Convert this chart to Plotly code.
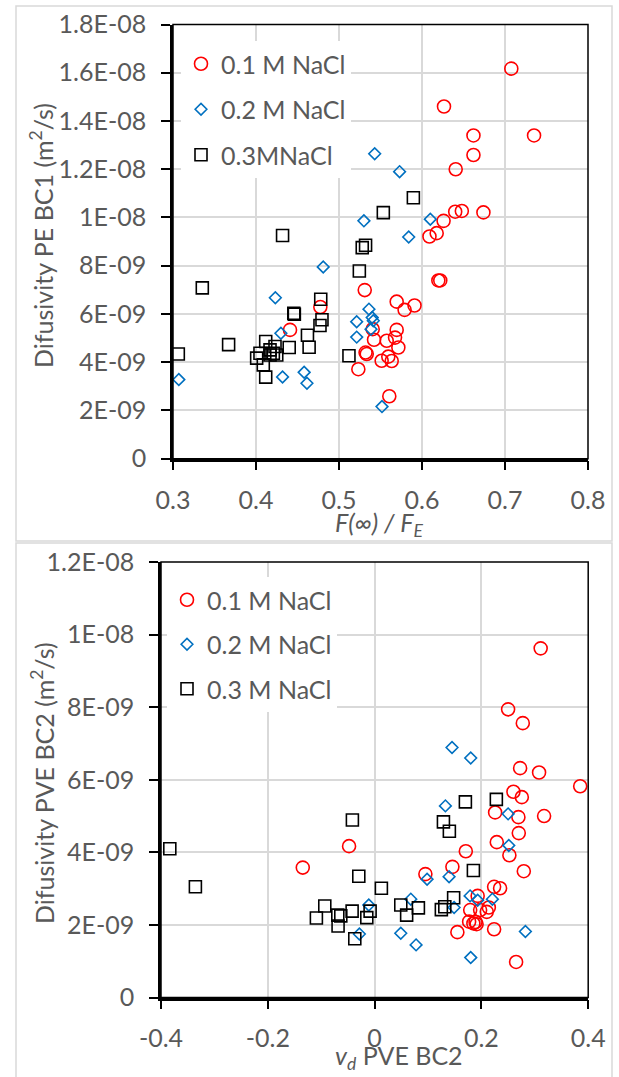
import plotly.graph_objects as go

# ---------------- data: top panel (F(inf)/F_E vs Difusivity PE BC1) ----------------
top_x_01 = [0.5695, 0.579, 0.591, 0.5695, 0.5675, 0.5575, 0.5715, 0.5594, 0.5635, 0.5514,
            0.5606, 0.5233, 0.532, 0.5334, 0.5422, 0.5406, 0.531, 0.4775, 0.441, 0.6197,
            0.622, 0.609, 0.6177, 0.626, 0.640, 0.648, 0.674, 0.6406, 0.662, 0.662,
            0.735, 0.6265, 0.7076]
top_y_01 = [6.51, 6.17, 6.35, 5.34, 5.02, 4.89, 4.61, 4.23, 4.05, 4.06,
            2.59, 3.71, 4.40, 4.34, 4.93, 5.37, 6.99, 6.29, 5.34, 7.39,
            7.39, 9.21, 9.35, 9.86, 10.24, 10.27, 10.21, 12.0, 12.59, 13.4,
            13.4, 14.6, 16.17]

top_x_02 = [0.307, 0.4233, 0.430, 0.432, 0.458, 0.4614, 0.481, 0.5213, 0.5213, 0.530,
            0.5361, 0.540, 0.5413, 0.5386, 0.5518, 0.543, 0.573, 0.584, 0.610]
top_y_02 = [3.28, 6.67, 5.20, 3.39, 3.58, 3.13, 7.95, 5.68, 5.04, 9.86,
            6.20, 5.85, 5.72, 5.37, 2.16, 12.64, 11.9, 9.19, 9.93]

top_x_03 = [0.3064, 0.3353, 0.367, 0.4008, 0.4048, 0.4088, 0.4117, 0.4117, 0.4169, 0.4229,
            0.4209, 0.425, 0.4169, 0.432, 0.440, 0.4455, 0.4462, 0.462, 0.464, 0.478,
            0.4795, 0.4771, 0.512, 0.5245, 0.528, 0.532, 0.5534, 0.5896]
top_y_03 = [4.34, 7.08, 4.73, 4.17, 4.37, 3.89, 3.38, 4.86, 4.51, 4.65,
            4.37, 4.30, 4.30, 9.25, 4.61, 6.03, 5.99, 5.12, 4.62, 6.61,
            5.76, 5.52, 4.27, 7.78, 8.75, 8.85, 10.2, 10.82]

# ---------------- data: bottom panel (v_d PVE BC2 vs Difusivity PVE BC2) ----------------
bot_x_01 = [-0.1345, -0.0478, 0.311, 0.25, 0.2775, 0.2725, 0.308, 0.385, 0.26, 0.2757,
            0.2257, 0.2693, 0.3174, 0.270, 0.2288, 0.1708, 0.2524, 0.1457, 0.2794, 0.0951,
            0.2238, 0.235, 0.193, 0.2139, 0.210, 0.1976, 0.179, 0.177, 0.185, 0.191,
            0.189, 0.2238, 0.155, 0.265]
bot_y_01 = [3.58, 4.17, 9.62, 7.94, 7.56, 6.32, 6.20, 5.82, 5.67, 5.52,
            5.10, 4.97, 5.00, 4.53, 4.28, 4.03, 3.92, 3.60, 3.48, 3.40,
            3.05, 3.01, 2.80, 2.48, 2.36, 2.41, 2.41, 2.09, 2.04, 2.02,
            2.08, 1.88, 1.80, 0.98]

bot_x_02 = [-0.0109, -0.0285, 0.145, 0.180, 0.1326, 0.25, 0.2513, 0.1395, 0.0983, 0.0678,
            0.1788, 0.193, 0.2206, 0.1489, 0.2824, 0.049, 0.0777, 0.180]
bot_y_02 = [2.55, 1.75, 6.89, 6.60, 5.28, 5.06, 4.19, 3.33, 3.26, 2.71,
            2.80, 2.68, 2.71, 2.48, 1.82, 1.77, 1.45, 1.10]

bot_x_03 = [-0.3835, -0.3356, -0.0416, -0.0296, 0.0127, -0.0933, -0.109, -0.0689, -0.0633, -0.0684,
            -0.0421, -0.0146, -0.0084, -0.0371, 0.170, 0.228, 0.1289, 0.140, 0.185, 0.049,
            0.082, 0.060, 0.125, 0.1315, 0.148]
bot_y_03 = [4.10, 3.05, 4.89, 3.34, 3.01, 2.52, 2.19, 2.27, 2.25, 1.97,
            2.38, 2.20, 2.38, 1.62, 5.39, 5.46, 4.84, 4.58, 3.50, 2.55,
            2.47, 2.27, 2.42, 2.50, 2.75]

top_names = ["0.1 M NaCl", "0.2 M NaCl", "0.3MNaCl"]
bot_names = ["0.1 M NaCl", "0.2 M NaCl", "0.3 M NaCl"]

top_yticks = [0, 2e-9, 4e-9, 6e-9, 8e-9, 1e-8, 1.2e-8, 1.4e-8, 1.6e-8, 1.8e-8]
top_yticktext = ["0", "2E-09", "4E-09", "6E-09", "8E-09", "1E-08", "1.2E-08", "1.4E-08", "1.6E-08", "1.8E-08"]
top_xticks = [0.3, 0.4, 0.5, 0.6, 0.7, 0.8]
top_xticktext = ["0.3", "0.4", "0.5", "0.6", "0.7", "0.8"]

bot_yticks = [0, 2e-9, 4e-9, 6e-9, 8e-9, 1e-8, 1.2e-8]
bot_yticktext = ["0", "2E-09", "4E-09", "6E-09", "8E-09", "1E-08", "1.2E-08"]
bot_xticks = [-0.4, -0.2, 0, 0.2, 0.4]
bot_xticktext = ["-0.4", "-0.2", "0", "0.2", "0.4"]

# ---------------- figure ----------------
W, H = 619, 1077
FONT = "Lato"
TXT = "#595959"
FS = 25


def px_x(p):
    return p / W


def px_y(p):
    return 1 - p / H


fig = go.Figure()

styles = [
    dict(symbol="circle-open", size=13, color="#FF0000"),
    dict(symbol="diamond-open", size=9, color="#0070C0"),
    dict(symbol="square-open", size=12, color="#000000"),
]

top_sets = [(top_x_01, top_y_01), (top_x_02, top_y_02), (top_x_03, top_y_03)]
bot_sets = [(bot_x_01, bot_y_01), (bot_x_02, bot_y_02), (bot_x_03, bot_y_03)]

for i, ((xs, ys), st) in enumerate(zip(top_sets, styles)):
    fig.add_trace(go.Scatter(
        x=xs, y=[v * 1e-9 for v in ys], mode="markers", name=top_names[i],
        xaxis="x", yaxis="y", legend="legend", legendgroup=f"t{i}",
        marker=dict(symbol=st["symbol"], size=st["size"], color=st["color"],
                    line=dict(width=1.6, color=st["color"])),
    ))

for i, ((xs, ys), st) in enumerate(zip(bot_sets, styles)):
    fig.add_trace(go.Scatter(
        x=xs, y=[v * 1e-9 for v in ys], mode="markers", name=bot_names[i],
        xaxis="x2", yaxis="y2", legend="legend2", legendgroup=f"b{i}",
        marker=dict(symbol=st["symbol"], size=st["size"], color=st["color"],
                    line=dict(width=1.6, color=st["color"])),
    ))

axis_common = dict(
    showgrid=True, gridcolor="#d9d9d9", gridwidth=1.5,
    zeroline=False, showline=True, linecolor="black", linewidth=2.5,
    ticks="outside", ticklen=9, tickwidth=2, tickcolor="black",
    tickfont=dict(family=FONT, size=FS, color=TXT),
    automargin=False, fixedrange=True,
)

# pixel geometry of plot areas
T_L, T_R, T_T, T_B = 173, 588, 24.5, 458.7
B_L, B_R, B_T, B_B = 161, 588.2, 562, 997.5

fig.update_layout(
    width=W, height=H,
    margin=dict(l=0, r=0, t=0, b=0),
    paper_bgcolor="white", plot_bgcolor="white",
    font=dict(family=FONT, color=TXT, size=FS),
    xaxis=dict(axis_common, domain=[px_x(T_L), px_x(T_R)], range=[0.3, 0.8],
               tickvals=top_xticks, ticktext=top_xticktext, anchor="y",
               ticklabelstandoff=9),
    yaxis=dict(axis_common, domain=[px_y(T_B), px_y(T_T)], range=[0, 1.8e-8],
               tickvals=top_yticks, ticktext=top_yticktext, anchor="x",
               ticklabelstandoff=10),
    xaxis2=dict(axis_common, domain=[px_x(B_L), px_x(B_R)], range=[-0.4, 0.4],
                tickvals=bot_xticks, ticktext=bot_xticktext, anchor="y2",
                ticklabelstandoff=8),
    yaxis2=dict(axis_common, domain=[px_y(B_B), px_y(B_T)], range=[0, 1.2e-8],
                tickvals=bot_yticks, ticktext=bot_yticktext, anchor="x2",
                ticklabelstandoff=10),
    legend=dict(x=px_x(181), y=px_y(41), xanchor="left", yanchor="top",
                bgcolor="white", borderwidth=0, traceorder="grouped",
                tracegroupgap=10, font=dict(family=FONT, size=FS, color=TXT)),
    legend2=dict(x=px_x(167), y=px_y(577), xanchor="left", yanchor="top",
                 bgcolor="white", borderwidth=0, traceorder="grouped",
                 tracegroupgap=9, font=dict(family=FONT, size=FS, color=TXT)),
    showlegend=True,
)

# plot-area borders (thin top/right) and chart-area frames
fig.add_shape(type="rect", xref="x domain", yref="y domain", x0=0, x1=1, y0=0, y1=1,
              line=dict(color="black", width=1.5), layer="above")
fig.add_shape(type="rect", xref="x2 domain", yref="y2 domain", x0=0, x1=1, y0=0, y1=1,
              line=dict(color="black", width=1.5), layer="above")
fig.add_shape(type="rect", xref="paper", yref="paper",
              x0=px_x(16), x1=px_x(612), y0=px_y(541), y1=px_y(6),
              line=dict(color="#d9d9d9", width=1.5), layer="below")
fig.add_shape(type="rect", xref="paper", yref="paper",
              x0=px_x(16), x1=px_x(612), y0=px_y(1085), y1=px_y(543),
              line=dict(color="#d9d9d9", width=1.5), layer="below")

# axis titles
ann = dict(xref="paper", yref="paper", showarrow=False, xanchor="center", yanchor="middle",
           font=dict(family=FONT, size=FS, color=TXT))
fig.add_annotation(text="Difusivity PE BC1 (m<sup>2</sup>/s)", x=px_x(42), y=px_y(236),
                   textangle=-90, **ann)
fig.add_annotation(text="<i>F(∞) / F</i><sub><i>E</i></sub>", x=px_x(380), y=px_y(524), **ann)
fig.add_annotation(text="Difusivity PVE BC2 (m<sup>2</sup>/s)", x=px_x(42), y=px_y(783),
                   textangle=-90, **ann)
fig.add_annotation(text="<i>v</i><sub><i>d</i></sub> PVE BC2", x=px_x(399), y=px_y(1057), **ann)

fig.write_html("out.html")
